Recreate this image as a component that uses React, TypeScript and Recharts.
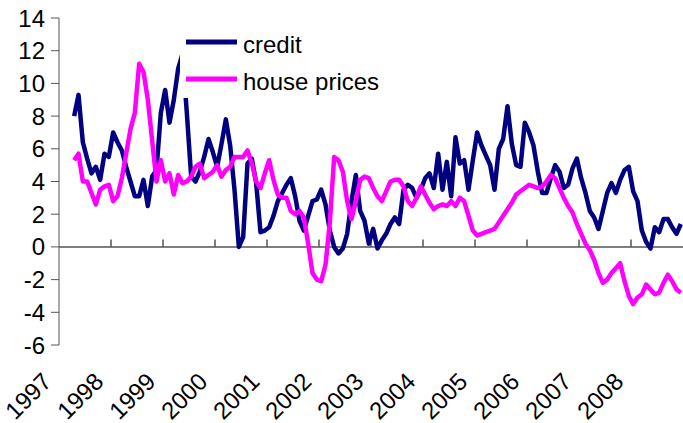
import React from 'react';
import { LineChart, Line, XAxis, YAxis, ReferenceLine, Legend } from 'recharts';

// monthly observations, first one is April 1997
const startYear = 1997;
const firstMonth = 3;

const yearTicks = [1997, 1998, 1999, 2000, 2001, 2002, 2003, 2004, 2005, 2006, 2007, 2008];
const valueTicks = [-6, -4, -2, 0, 2, 4, 6, 8, 10, 12, 14];

const credit = [
  8.0, 9.3, 6.4, 5.4, 4.5, 4.9, 4.1, 5.7, 5.5,
  7.0, 6.4, 5.9, 4.9, 4.0, 3.1, 3.1, 4.1, 2.5, 4.3, 4.7, 8.2,
  9.6, 7.6, 9.0, 10.9, 11.8, 8.2, 4.3, 4.0, 4.6, 5.5, 6.6, 5.8,
  4.9, 6.3, 7.8, 6.2, 3.5, 0.0, 0.6, 5.1, 5.4, 3.9, 0.9, 1.0,
  1.2, 1.9, 2.8, 3.3, 3.8, 4.2, 3.1, 1.6, 1.0, 1.9, 2.8, 2.9,
  3.5, 2.6, 1.0, 0.0, -0.4, -0.1, 0.8, 2.8, 4.4, 2.2, 1.6, 0.2,
  1.1, -0.1, 0.4, 0.8, 1.4, 1.8, 1.4, 3.5, 3.8, 3.6, 3.0, 3.5,
  4.2, 4.5, 3.6, 5.7, 3.5, 5.2, 3.1, 6.7, 5.1, 5.3, 3.5, 5.3,
  7.0, 6.2, 5.6, 5.0, 3.5, 6.0, 6.6, 8.6, 6.3, 5.0, 4.9, 7.6,
  7.0, 6.2, 4.6, 3.3, 3.3, 4.2, 5.0, 4.6, 3.6, 3.8, 4.8, 5.4,
  4.2, 3.3, 2.2, 1.8, 1.1, 2.2, 3.3, 3.9, 3.3, 4.1, 4.7, 4.9,
  3.4, 2.8, 1.0, 0.3, -0.1, 1.2, 0.9, 1.7, 1.7, 1.2, 0.8, 1.4,
];

const housePrices = [
  5.3, 5.7, 4.0, 4.0, 3.3, 2.6, 3.5, 3.7, 3.8,
  2.8, 3.1, 4.2, 5.7, 7.2, 8.2, 11.2, 10.7, 9.0, 6.5, 4.0, 5.3,
  4.0, 4.5, 3.2, 4.4, 3.9, 4.0, 4.3, 4.9, 5.1, 4.2, 4.4, 4.6,
  5.0, 4.3, 4.7, 4.9, 5.5, 5.5, 5.5, 5.9, 5.1, 4.0, 3.6, 4.5,
  5.3, 4.1, 3.2, 3.0, 3.0, 2.2, 2.0, 2.2, 1.8, 0.2, -1.6, -2.0,
  -2.1, -1.1, 1.5, 5.5, 5.3, 4.6, 2.8, 1.7, 2.8, 4.1, 4.3, 4.2,
  3.6, 3.1, 2.8, 3.4, 4.0, 4.1, 4.1, 3.7, 2.8, 2.5, 3.0, 3.7,
  3.2, 2.7, 2.3, 2.5, 2.6, 2.5, 2.8, 2.5, 3.0, 2.8, 1.9, 1.0,
  0.7, 0.8, 0.9, 1.0, 1.1, 1.5, 1.9, 2.3, 2.7, 3.2, 3.4, 3.6,
  3.8, 3.7, 3.6, 3.7, 4.0, 4.4, 4.2, 3.6, 3.0, 2.5, 2.1, 1.4,
  0.8, 0.2, -0.2, -0.8, -1.6, -2.2, -2.0, -1.6, -1.3, -1.0, -2.1, -3.0,
  -3.5, -3.1, -2.9, -2.3, -2.6, -2.9, -2.8, -2.2, -1.7, -2.1, -2.6, -2.8,
];

const data = credit.map((c, i) => ({
  date: startYear + (firstMonth + i + 0.5) / 12,
  credit: c,
  housePrices: housePrices[i],
}));

const font = '"Liberation Sans", Arial, sans-serif';

const YearTick = ({ x, y, payload }: any) => {
  const tx = x - 6;
  const ty = y + 38;
  return (
    <text
      x={tx}
      y={ty}
      transform={`rotate(-45, ${tx}, ${ty})`}
      textAnchor="end"
      fontSize={24}
      fontFamily={font}
      fill="#000"
    >
      {payload.value}
    </text>
  );
};

const renderLegend = ({ payload }: any) => (
  <svg width={205} height={74}>
    {(payload || []).map((entry: any, i: number) => (
      <g key={entry.value} transform={`translate(0, ${18 + i * 37})`}>
        <line x1={6} x2={57} y1={0} y2={0} stroke={entry.color} strokeWidth={5} />
        <text x={63} y={11} fontSize={24} fontFamily={font} fill="#000">
          {entry.value}
        </text>
      </g>
    ))}
  </svg>
);

const App: React.FC = () => {
  return (
    <div style={{ position: 'absolute', left: 0, top: 0, width: 683, height: 423, background: '#fff' }}>
      <LineChart width={683} height={423} data={data} margin={{ top: 18, right: 0, left: 0, bottom: 0 }}>
        <XAxis
          type="number"
          dataKey="date"
          domain={[1997, 2009]}
          ticks={yearTicks}
          interval={0}
          tick={<YearTick />}
          tickLine={false}
          axisLine={false}
          tickSize={0}
          tickMargin={0}
          height={78}
        />
        <YAxis
          domain={[-6, 14]}
          ticks={valueTicks}
          interval={0}
          width={59}
          tickSize={8}
          tickMargin={6}
          stroke="#555"
          tick={{ fill: '#000', fontSize: 24, fontFamily: font }}
        />
        <ReferenceLine y={0} stroke="#555" strokeWidth={1.5} />
        {yearTicks.slice(1).map((yr) => (
          <ReferenceLine
            key={yr}
            segment={[{ x: yr, y: 0 }, { x: yr, y: 0.45 }]}
            stroke="#555"
            strokeWidth={1.5}
          />
        ))}
        <Line
          type="linear"
          dataKey="credit"
          name="credit"
          stroke="#000080"
          strokeWidth={4.5}
          strokeLinejoin="round"
          dot={false}
          isAnimationActive={false}
        />
        <Line
          type="linear"
          dataKey="housePrices"
          name="house prices"
          stroke="#FF00FF"
          strokeWidth={4.5}
          strokeLinejoin="round"
          dot={false}
          isAnimationActive={false}
        />
        <Legend
          layout="horizontal"
          verticalAlign="middle"
          align="center"
          content={renderLegend}
          wrapperStyle={{ left: 180, top: 24, width: 205, height: 74, backgroundColor: '#fff' }}
        />
      </LineChart>
    </div>
  );
};

export default App;
